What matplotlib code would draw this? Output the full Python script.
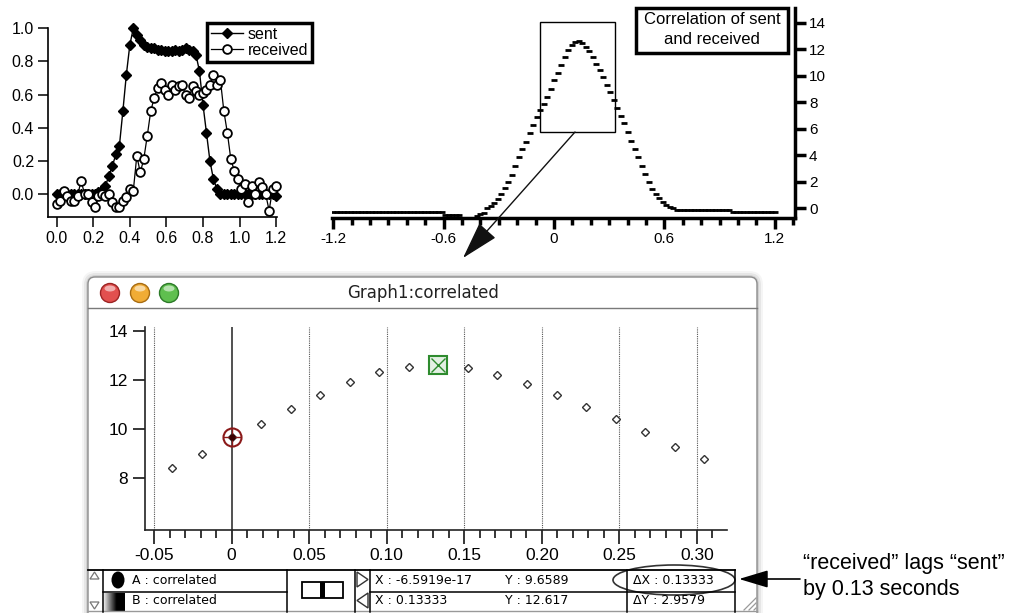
import numpy as np
import matplotlib
matplotlib.use('Agg')
import matplotlib.pyplot as plt
from matplotlib.patches import Rectangle, Ellipse, Circle, FancyBboxPatch, Polygon
from matplotlib.ticker import MultipleLocator

plt.rcParams['font.family'] = ['Liberation Sans', 'DejaVu Sans']

W, H = 1017, 613

# ---- data ----
dt = 1.2 / 63   # sample step, also the lag step of the correlation
sent = [0.00, 0.00, 0.00, 0.00, 0.00, 0.00, 0.00, 0.00, 0.00, 0.00, 0.00, 0.00,
        0.01, 0.025, 0.05, 0.11, 0.17, 0.24, 0.29, 0.50, 0.72, 0.90, 1.00,
        0.96, 0.93, 0.90, 0.89, 0.88, 0.88, 0.87, 0.87, 0.86, 0.86, 0.86, 0.87,
        0.86, 0.87, 0.88, 0.87, 0.86, 0.84,
        0.74, 0.54, 0.37, 0.20, 0.09, 0.03,
        0.00, 0.00, 0.00, 0.00, 0.00, 0.00, 0.00, 0.00, 0.00, 0.00, 0.00, 0.00,
        0.00, 0.00, 0.00, 0.00, -0.01]
received = [-0.06, -0.04, 0.02, -0.01, -0.04, -0.04, -0.01, 0.08, 0.00, 0.00,
            -0.05, -0.08, -0.01, 0.00, -0.01, 0.00, -0.05, -0.08, -0.08, -0.04,
            -0.02, 0.03, 0.02, 0.23, 0.13, 0.21, 0.35, 0.50, 0.58, 0.64,
            0.67, 0.63, 0.60, 0.66, 0.63, 0.65, 0.66, 0.60, 0.58, 0.65,
            0.62, 0.60, 0.61, 0.63, 0.66, 0.72, 0.66, 0.69, 0.50, 0.37,
            0.21, 0.14, 0.09, 0.03, 0.06, -0.05, 0.05, 0.00, 0.07, 0.04,
            0.00, -0.10, 0.03, 0.05]
# correlation, lags -63*dt .. +63*dt
correlation = [
    -0.25, -0.25, -0.25, -0.25, -0.25, -0.25, -0.25, -0.25, -0.25, -0.25,
    -0.25, -0.25, -0.25, -0.25, -0.25, -0.25, -0.25, -0.25, -0.25, -0.25,
    -0.25, -0.25, -0.25, -0.25, -0.25, -0.25, -0.25, -0.25, -0.25, -0.25,
    -0.25, -0.25,
    -0.5, -0.5, -0.5, -0.5, -0.5,
    -0.7, -0.7, -0.7, -0.7,
    -0.6, -0.45, -0.35, 0.0, 0.2, 0.4, 0.7, 1.1, 1.5, 1.95, 2.5, 3.2, 3.9,
    4.5, 5.0, 5.65, 6.3, 6.9, 7.4, 7.9, 8.42, 8.99,
    9.66, 10.22, 10.80, 11.38, 11.91, 12.31, 12.54, 12.62, 12.49, 12.19,
    11.85, 11.38, 10.91, 10.40, 9.87, 9.28, 8.76,
    8.2, 7.6, 7.0, 6.4, 5.75, 5.1, 4.45, 3.85, 3.2, 2.6, 1.95, 1.45, 1.05,
    0.75, 0.5, 0.25, 0.1, 0.0,
    -0.1, -0.1, -0.1, -0.1, -0.1, -0.1, -0.1, -0.1, -0.1, -0.1, -0.1, -0.1,
    -0.1, -0.1, -0.1, -0.1,
    -0.25, -0.25, -0.25, -0.25, -0.25, -0.25, -0.25, -0.25, -0.25, -0.25,
    -0.25, -0.25, -0.25]
cursor_a, cursor_b = 63, 70        # indices of the two cursors in correlation
readout = [("X : -6.5919e-17", "Y : 9.6589", "\u0394X : 0.13333"),
           ("X : 0.13333", "Y : 12.617", "\u0394Y : 2.9579")]

t = np.arange(len(sent)) * dt
lags = np.arange(-63, 64) * dt
correlation = np.array(correlation)

fig = plt.figure(figsize=(W / 100, H / 100), dpi=100)


def px_axes(l, tp, r, b, z=1):
    ax = fig.add_axes([l / W, 1 - b / H, (r - l) / W, (b - tp) / H], zorder=z)
    ax.set_facecolor('none')
    return ax


def overlay(z):
    ax = fig.add_axes([0, 0, 1, 1], zorder=z)
    ax.set_facecolor('none')
    ax.axis('off')
    return ax


# ---------------- window chrome (behind) ----------------
bg = overlay(0)
for off, a in [(6, 0.04), (4, 0.06), (2, 0.09)]:
    bg.add_patch(FancyBboxPatch((88 - off, 277 - off), 669 + 2 * off, 360,
                                boxstyle='round,pad=0,rounding_size=%d' % (8 + off),
                                fc='black', ec='none', alpha=a))
win = FancyBboxPatch((88, 277), 669, 360, boxstyle='round,pad=0,rounding_size=7',
                     fc='white', ec='#8c8c8c', lw=1)
bg.add_patch(win)
grad = np.linspace(0.95, 0.80, 60).reshape(-1, 1)
im = bg.imshow(grad, cmap='gray', vmin=0, vmax=1, extent=[88, 757, 308, 277],
               aspect='auto', interpolation='bilinear')
im.set_clip_path(win)
bg.plot([88, 757], [308, 308], color='#7a7a7a', lw=1)
for cx, fc, ec in [(110, '#e2504f', '#9c2424'), (140, '#f1ac35', '#a86c12'),
                   (169, '#5fbf4f', '#2c7a28')]:
    bg.add_patch(Circle((cx, 293), 9.5, fc=fc, ec=ec, lw=1))
    bg.add_patch(Ellipse((cx, 288.5), 11, 6, fc='white', ec='none', alpha=0.55))
bg.text(423, 293, 'Graph1:correlated', ha='center', va='center', fontsize=12,
        family='DejaVu Sans', color='#222222')
bg.set_xlim(0, W)
bg.set_ylim(H, 0)

# ---------------- top-left: sent / received ----------------
ax1 = px_axes(48, 28.3, 277, 217)
ax1.plot(t, sent, '-', color='black', lw=1, marker='D', ms=5.5, mfc='black',
         mec='black', clip_on=False, label='sent')
ax1.plot(t, received, '-', color='black', lw=0.9, marker='o', ms=6.3, mfc='white',
         mec='black', mew=1.3, clip_on=False, label='received')
ax1.set_xlim(-0.0476, 1.205)
ax1.set_ylim(-0.139, 1.0)
for s in ['top', 'right']:
    ax1.spines[s].set_visible(False)
for s in ['left', 'bottom']:
    ax1.spines[s].set_linewidth(1.2)
ax1.set_xticks([0, 0.2, 0.4, 0.6, 0.8, 1.0, 1.2])
ax1.set_xticklabels(['0.0', '0.2', '0.4', '0.6', '0.8', '1.0', '1.2'])
ax1.set_yticks([0, 0.2, 0.4, 0.6, 0.8, 1.0])
ax1.set_yticklabels(['0.0', '0.2', '0.4', '0.6', '0.8', '1.0'])
ax1.tick_params(direction='out', length=7, width=1.1, labelsize=11.5, pad=3)
leg = ax1.legend(loc='upper left', bbox_to_anchor=(207 / W, 1 - 23 / H),
                 bbox_transform=fig.transFigure, fancybox=False, edgecolor='black',
                 framealpha=1, borderpad=0.25, labelspacing=0.05, handlelength=2.0,
                 handletextpad=0.3, borderaxespad=0, fontsize=11.5)
leg.get_frame().set_linewidth(2.5)

# ---------------- top-right: correlation ----------------
ax2 = px_axes(332, 8, 795, 218)
ax2.plot(lags, correlation, ls='none', marker='_', ms=4.5, mew=2, color='black')
ax2.set_xlim(-1.207, 1.31)
ax2.set_ylim(-0.73, 15.11)
for s in ['top', 'left']:
    ax2.spines[s].set_visible(False)
for s in ['right', 'bottom']:
    ax2.spines[s].set_linewidth(2.5)
ax2.yaxis.tick_right()
ax2.set_yticks(range(0, 15, 2))
ax2.set_xticks([-1.2, -0.6, 0, 0.6, 1.2])
ax2.set_xticklabels(['-1.2', '-0.6', '0', '0.6', '1.2'])
ax2.xaxis.set_minor_locator(MultipleLocator(0.1))
ax2.tick_params(which='major', direction='out', length=8, width=2.5, labelsize=11, pad=2)
ax2.tick_params(which='minor', direction='out', length=5, width=2.5)
ax2.add_patch(Rectangle((-0.077, 5.78), 0.408, 8.29, fill=False, ec='black', lw=1,
                        clip_on=False))

# ---------------- window graph: zoom of the correlation ----------------
ax3 = px_axes(145, 327, 727, 530)
x_lo, x_hi = -0.0558, 0.3194
for xv in [-0.05, 0.05, 0.10, 0.15, 0.20, 0.25, 0.30]:
    ax3.axvline(xv, ls=(0, (1, 1)), lw=0.8, color='#555555')
ax3.axvline(0, color='#333333', lw=1.2)
sel = (lags > x_lo) & (lags < x_hi)
ax3.plot(lags[sel], correlation[sel], ls='none', marker='D', ms=4.3, mfc='white',
         mec='#333333', mew=1.0)
ax_, ay_ = lags[cursor_a], correlation[cursor_a]
ax3.plot(ax_, ay_, marker='o', ms=13, mfc='none', mec='#8b1a1a', mew=1.5)
ax3.plot(ax_, ay_, marker='+', ms=13, mec='#8b1a1a', mew=1.0)
ax3.plot(ax_, ay_, marker='o', ms=3.5, color='#3a0000')
bx_, by_ = lags[cursor_b], correlation[cursor_b]
ax3.plot(bx_, by_, marker='s', ms=13, mfc='#e3f0e3', mec='#2e8b2e', mew=1.5)
ax3.plot(bx_, by_, marker='x', ms=10, mec='#2e8b2e', mew=1.0)
ax3.set_xlim(x_lo, x_hi)
ax3.set_ylim(5.878, 14.163)
for s in ['top', 'right']:
    ax3.spines[s].set_visible(False)
for s in ['left', 'bottom']:
    ax3.spines[s].set_linewidth(1.2)
    ax3.spines[s].set_color('#222222')
ax3.set_xticks([-0.05, 0, 0.05, 0.10, 0.15, 0.20, 0.25, 0.30])
ax3.set_xticklabels(['-0.05', '0', '0.05', '0.10', '0.15', '0.20', '0.25', '0.30'])
ax3.xaxis.set_minor_locator(MultipleLocator(0.01))
ax3.set_yticks([8, 10, 12, 14])
ax3.tick_params(which='major', direction='out', length=10, width=1.1, labelsize=12.5, pad=3)
ax3.tick_params(which='minor', direction='out', length=6, width=1.1)
ax3.tick_params(axis='y', length=9)

# ---------------- foreground: info panel, arrows, notes ----------------
fg = overlay(5)
lc = 'black'
fg.plot([88, 735], [570, 570], color=lc, lw=1.3)
fg.plot([103, 287], [592, 592], color=lc, lw=1.1)
fg.plot([370, 735], [592, 592], color=lc, lw=1.1)
fg.plot([88, 757], [611, 611], color='#999999', lw=1)
for xv in [103, 287, 355, 370, 627, 735]:
    fg.plot([xv, xv], [570, 612], color=lc, lw=1.1)
fg.add_patch(Polygon([(90, 579), (99, 579), (94.5, 572)], fill=False, ec='#777777', lw=0.9))
fg.add_patch(Polygon([(90, 602), (99, 602), (94.5, 609)], fill=False, ec='#777777', lw=0.9))
fg.add_patch(Ellipse((118, 580), 13, 17, fc='black', ec='none'))
bgrad = np.clip(np.linspace(0.9, -0.6, 40), 0, 1).reshape(1, -1)
fg.imshow(bgrad, cmap='gray', vmin=0, vmax=1, extent=[104, 125, 611, 593],
          aspect='auto', interpolation='bilinear')
fg.text(132, 581, 'A : correlated', va='center', fontsize=9, family='DejaVu Sans')
fg.text(132, 601, 'B : correlated', va='center', fontsize=9, family='DejaVu Sans')
fg.add_patch(Rectangle((302, 582), 41, 16, fc='white', ec='black', lw=1.3))
fg.add_patch(Rectangle((320, 582), 5, 16, fc='black', ec='none'))
fg.add_patch(Polygon([(357, 572), (357, 587), (368, 579.5)], fill=False, ec='#333333', lw=1))
fg.add_patch(Polygon([(368, 593), (368, 608), (357, 600.5)], fill=False, ec='#333333', lw=1))
for row, yv in zip(readout, [581, 601]):
    for txt, xv in zip(row, [375, 505, 633]):
        fg.text(xv, yv, txt, va='center', fontsize=9, family='DejaVu Sans')
fg.add_patch(Ellipse((674, 580), 122, 30, fill=False, ec='#333333', lw=1.2))
for d in [0, 5, 10]:
    fg.plot([744 + d, 756], [610, 598 + d], color='#9a9a9a', lw=0.9)

fg.annotate('', xy=(463, 258), xytext=(575, 132),
            arrowprops=dict(arrowstyle='-|>,head_length=1.2,head_width=0.35',
                            mutation_scale=20, color='#111111', lw=1,
                            shrinkA=0, shrinkB=0))
fg.annotate('', xy=(739, 579), xytext=(800, 579),
            arrowprops=dict(arrowstyle='-|>,head_length=1.0,head_width=0.3',
                            mutation_scale=18, color='black', lw=1.2,
                            shrinkA=0, shrinkB=0))
fg.text(803, 564, '\u201creceived\u201d lags \u201csent\u201d', va='center', fontsize=15.5)
fg.text(803, 590, 'by 0.13 seconds', va='center', fontsize=15.5)

fg.add_patch(Rectangle((636, 8), 152, 45, fill=False, ec='black', lw=2.5))
fg.text(712, 20, 'Correlation of sent', ha='center', va='center', fontsize=12)
fg.text(712, 40, 'and received', ha='center', va='center', fontsize=12)
fg.set_xlim(0, W)
fg.set_ylim(H, 0)

fig.savefig('out.png', dpi=100)
